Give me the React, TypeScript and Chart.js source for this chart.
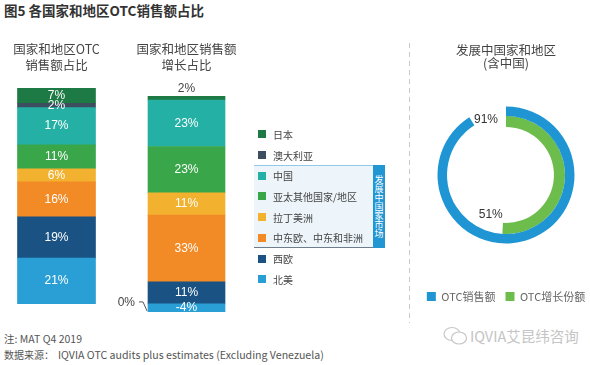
import React, { useEffect, useRef } from 'react';
import { Chart, registerables } from 'chart.js';

Chart.register(...registerables);

// ---------------- data ----------------
const regions = ['北美', '西欧', '中东欧、中东和非洲', '拉丁美洲', '亚太其他国家/地区', '中国', '澳大利亚', '日本'];
const salesShare = [21, 19, 16, 6, 11, 17, 2, 7];
const growthShare = [-4, 11, 33, 11, 23, 23, 0, 2];
const developingMarkets = ['中国', '亚太其他国家/地区', '拉丁美洲', '中东欧、中东和非洲'];
const developingLabel = '发展中国家市场';
const barTitles = [['国家和地区OTC', '销售额占比'], ['国家和地区销售额', '增长占比']];
const ringTitle = ['发展中国家和地区', '(含中国)'];
const ringLabels = ['OTC销售额', 'OTC增长份额'];
const ringValues = [91, 51];
const chartTitle = '图5 各国家和地区OTC销售额占比';
const noteText = '注: MAT Q4 2019';
const sourceLabel = '数据来源：';
const sourceText = 'IQVIA OTC audits plus estimates (Excluding Venezuela)';
const watermark = 'IQVIA艾昆纬咨询';

// ---------------- styles ----------------
const regionColors = ['#2a9fd6', '#1a5383', '#f28a25', '#f2b22f', '#3aa64a', '#24b0a5', '#3e4e61', '#1d7a45'];
const ringColors = ['#1f96d3', '#6cbd4b'];
const CJK = '"Noto Sans CJK SC", "Noto Sans", sans-serif';
const NUM = '"Liberation Sans", Arial, sans-serif';

const sumPos = (a: number[]) => a.filter((v) => v > 0).reduce((s, v) => s + v, 0);
const sumNeg = (a: number[]) => a.filter((v) => v < 0).reduce((s, v) => s + v, 0);

const segmentLabels = {
  id: 'segmentLabels',
  afterDatasetsDraw(chart: any) {
    const { ctx } = chart;
    let topIdx = -1;
    chart.data.datasets.forEach((d: any, i: number) => {
      if (d.data[0] > 0) topIdx = i;
    });
    ctx.save();
    ctx.font = `12px ${NUM}`;
    ctx.textBaseline = 'middle';
    chart.data.datasets.forEach((ds: any, i: number) => {
      const v = ds.data[0];
      const bar = chart.getDatasetMeta(i).data[0];
      const { x, y, base, width } = bar.getProps(['x', 'y', 'base', 'width'], true);
      const label = `${v}%`;
      if (v === 0) {
        const zy = chart.scales.y.getPixelForValue(0);
        const left = x - width / 2;
        ctx.fillStyle = '#444';
        ctx.textAlign = 'right';
        ctx.fillText(label, left - 13, zy - 1);
        ctx.strokeStyle = '#555';
        ctx.lineWidth = 1;
        ctx.beginPath();
        ctx.moveTo(left - 9, zy - 2);
        ctx.lineTo(left - 5, zy - 2);
        ctx.lineTo(left - 1, zy + 7);
        ctx.stroke();
        return;
      }
      ctx.textAlign = 'center';
      const h = Math.abs(base - y);
      if (i === topIdx && h < 8) {
        ctx.fillStyle = '#444';
        ctx.fillText(label, x, Math.min(y, base) - 7);
      } else {
        ctx.fillStyle = '#fff';
        ctx.fillText(label, x, (y + base) / 2);
      }
    });
    ctx.restore();
  },
};

const ringNudges = [
  { da: 0.22, dr: 0 },
  { da: 0.3, dr: -5 },
];
const ringValueLabels = {
  id: 'ringValueLabels',
  afterDatasetsDraw(chart: any) {
    const { ctx } = chart;
    ctx.save();
    ctx.font = `12px ${NUM}`;
    ctx.fillStyle = '#333';
    ctx.textAlign = 'center';
    ctx.textBaseline = 'middle';
    chart.data.datasets.forEach((ds: any, i: number) => {
      const arc = chart.getDatasetMeta(i).data[0];
      const { x, y, endAngle, innerRadius } = arc.getProps(['x', 'y', 'endAngle', 'innerRadius'], true);
      const a = endAngle + ringNudges[i].da;
      const r = innerRadius + ringNudges[i].dr;
      ctx.fillText(`${ds.data[0]}%`, x + r * Math.cos(a), y + r * Math.sin(a));
    });
    ctx.restore();
  },
};

function barConfig(values: number[], title: string[], thickness: number, titlePadBottom: number): any {
  return {
    type: 'bar',
    data: {
      labels: [''],
      datasets: regions.map((r, i) => ({
        label: r,
        data: [values[i]],
        backgroundColor: regionColors[i],
        borderWidth: 0,
        barThickness: thickness,
        stack: 's',
      })),
    },
    options: {
      animation: false,
      responsive: true,
      maintainAspectRatio: false,
      layout: { padding: 0 },
      scales: {
        x: { display: false, stacked: true },
        y: { display: false, stacked: true, min: sumNeg(values), max: sumPos(values) },
      },
      plugins: {
        legend: { display: false },
        tooltip: { enabled: false },
        title: {
          display: true,
          text: title,
          color: '#444',
          font: { family: CJK, size: 12.5, weight: 'normal', lineHeight: 16 / 12.5 },
          padding: { top: 5, bottom: titlePadBottom },
        },
      },
    },
    plugins: [segmentLabels],
  };
}

function ringConfig(): any {
  return {
    type: 'doughnut',
    data: {
      labels: ['', ''],
      datasets: ringValues.map((v, i) => ({
        label: ringLabels[i],
        data: [v, 100 - v],
        backgroundColor: [ringColors[i], 'rgba(0,0,0,0)'],
        borderWidth: 0,
        weight: i === 0 ? 9.5 : 11,
      })),
    },
    options: {
      animation: false,
      responsive: true,
      maintainAspectRatio: false,
      cutout: '70%',
      radius: 68.5,
      layout: { padding: 0 },
      plugins: {
        tooltip: { enabled: false },
        title: {
          display: true,
          text: ringTitle,
          color: '#444',
          font: { family: CJK, size: 12.5, weight: 'normal', lineHeight: 13 / 12.5 },
          padding: { top: 8, bottom: 20 },
        },
        legend: {
          display: true,
          position: 'bottom',
          title: { display: true, text: ' ', padding: 0, font: { size: 21, lineHeight: 1 } },
          labels: {
            boxWidth: 9,
            boxHeight: 9,
            padding: 10,
            color: '#555',
            font: { family: CJK, size: 11 },
            generateLabels: () =>
              ringLabels.map((t, i) => ({
                text: t,
                fillStyle: ringColors[i],
                strokeStyle: ringColors[i],
                lineWidth: 0,
                hidden: false,
                datasetIndex: i,
              })),
          },
        },
      },
    },
    plugins: [ringValueLabels],
  };
}

function ChartBox({ config, style }: { config: () => any; style: React.CSSProperties }) {
  const ref = useRef<HTMLCanvasElement | null>(null);
  useEffect(() => {
    if (!ref.current) return;
    const chart = new Chart(ref.current, config());
    return () => chart.destroy();
  }, []);
  return (
    <div style={{ position: 'absolute', ...style }}>
      <canvas ref={ref} />
    </div>
  );
}

export default function App() {
  const legendRows = regions.map((r, i) => ({ r, c: regionColors[i] })).reverse();
  const rowTop = 124;
  const rowH = 20.7;
  const devIdx = legendRows.map((d, i) => (developingMarkets.includes(d.r) ? i : -1)).filter((i) => i >= 0);
  const boxTop = rowTop + Math.min(...devIdx) * rowH;
  const boxBottom = rowTop + (Math.max(...devIdx) + 1) * rowH;

  return (
    <div
      style={{
        position: 'absolute',
        left: 0,
        top: 0,
        width: 590,
        height: 365,
        overflow: 'hidden',
        background: '#fff',
        fontFamily: CJK,
      }}
    >
      <div style={{ position: 'absolute', left: 4, top: 2, fontSize: 13.5, lineHeight: '16px', fontWeight: 'bold', color: '#333', whiteSpace: 'nowrap' }}>
        {chartTitle}
      </div>

      <ChartBox config={() => barConfig(salesShare, barTitles[0], 78, 15)} style={{ left: 0, top: 36, width: 113, height: 268 }} />
      <ChartBox config={() => barConfig(growthShare, barTitles[1], 77, 23)} style={{ left: 100, top: 36, width: 173, height: 276 }} />

      {/* developing market box */}
      <div
        style={{
          position: 'absolute',
          left: 254,
          top: boxTop,
          width: 131,
          height: boxBottom - boxTop,
          boxSizing: 'border-box',
          background: '#edf5fb',
          borderTop: '1px solid #8fcbe8',
          borderBottom: '1px solid #6d7d8c',
        }}
      />
      <div
        style={{
          position: 'absolute',
          left: 373,
          top: boxTop,
          width: 12,
          height: boxBottom - boxTop,
          background: '#2196d3',
          color: '#fff',
          display: 'flex',
          flexDirection: 'column',
          alignItems: 'center',
          justifyContent: 'center',
          fontSize: 9,
          lineHeight: '9px',
        }}
      >
        {developingLabel.split('').map((ch, i) => (
          <span key={i} style={{ display: 'block' }}>
            {ch}
          </span>
        ))}
      </div>

      {legendRows.map((d, i) => (
        <div
          key={d.r}
          style={{
            position: 'absolute',
            left: 258,
            top: rowTop + i * rowH,
            height: rowH,
            display: 'flex',
            alignItems: 'center',
            whiteSpace: 'nowrap',
            fontSize: 10,
            color: '#444',
          }}
        >
          <span style={{ display: 'inline-block', width: 8, height: 8, background: d.c, marginRight: 7 }} />
          <span>{d.r}</span>
        </div>
      ))}

      {/* dashed separator */}
      <div
        style={{
          position: 'absolute',
          left: 409,
          top: 43,
          width: 1,
          height: 280,
          background: 'repeating-linear-gradient(to bottom, #c9c9c9 0 5px, transparent 5px 9px)',
        }}
      />

      <ChartBox config={ringConfig} style={{ left: 400, top: 36, width: 212, height: 276 }} />

      <div style={{ position: 'absolute', left: 4, top: 331, fontSize: 10.5, lineHeight: '15px', color: '#555', whiteSpace: 'nowrap' }}>
        {noteText}
      </div>
      <div style={{ position: 'absolute', left: 4, top: 347, fontSize: 10, lineHeight: '15px', color: '#555', whiteSpace: 'nowrap' }}>
        {sourceLabel}
        <span style={{ marginLeft: 4, fontSize: 10.6 }}>{sourceText}</span>
      </div>

      <svg style={{ position: 'absolute', left: 443, top: 326 }} width="25" height="20" viewBox="0 0 25 20">
        <g fill="none" stroke="#c6c6c6" strokeWidth="1.2">
          <ellipse cx="9" cy="8" rx="8" ry="6.5" />
          <ellipse cx="16" cy="12" rx="7.5" ry="6" fill="#fff" />
        </g>
      </svg>
      <div style={{ position: 'absolute', left: 470, top: 327, fontSize: 14.5, lineHeight: '18px', color: '#c4c4c4', whiteSpace: 'nowrap' }}>
        {watermark}
      </div>
    </div>
  );
}
